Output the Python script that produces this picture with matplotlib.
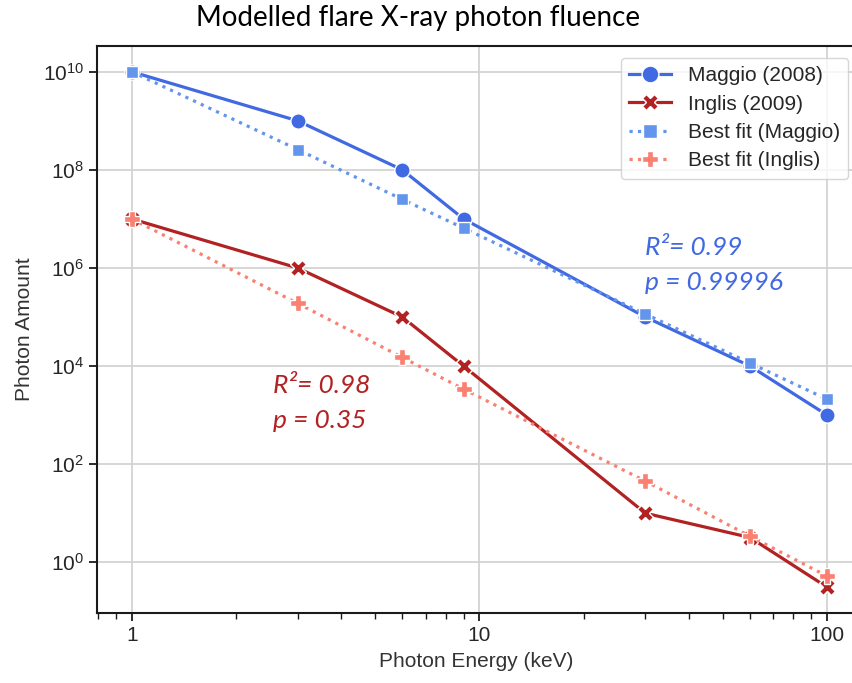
import matplotlib
matplotlib.use("Agg")
import matplotlib.pyplot as plt
from matplotlib.ticker import NullLocator, LogLocator

plt.rcParams["font.family"] = ["Liberation Sans", "DejaVu Sans"]

energy = [1, 3, 6, 9, 30, 60, 100]
maggio = [1e10, 1e9, 1e8, 1e7, 1e5, 1e4, 1e3]
inglis = [1e7, 1e6, 1e5, 1e4, 10, 3.2, 0.31]
fit_maggio = [1e10, 2.6e8, 2.5e7, 6.5e6, 1.15e5, 1.15e4, 2.1e3]
fit_inglis = [1e7, 1.9e5, 1.5e4, 3.4e3, 45, 3.4, 0.52]

y_ticks = [1e0, 1e2, 1e4, 1e6, 1e8, 1e10]
x_ticks = [1, 10, 100]

W, H = 852, 683
fig = plt.figure(figsize=(W / 100, H / 100), dpi=100)
ax = fig.add_axes([97 / W, 70 / H, 758 / W, 567 / H])

line_kw = {"lw": 2.3, "mec": "white", "mew": 1.0}
ax.plot(energy, maggio, "-", marker="o", ms=11, color="#4169E1", label="Maggio (2008)", **line_kw)
ax.plot(energy, inglis, "-", marker="X", ms=11, color="#B22222", label="Inglis (2009)", **line_kw)
ax.plot(energy, fit_maggio, ":", marker="s", ms=9, color="#6495ED", label="Best fit (Maggio)", **line_kw)
ax.plot(energy, fit_inglis, ":", marker="P", ms=11, color="#FA8072", label="Best fit (Inglis)", **line_kw)

ax.set_xscale("log")
ax.set_yscale("log")
ax.set_xlim(10 ** -0.1, 10 ** 2.08)
ax.set_yticks(y_ticks)
ax.yaxis.set_minor_locator(NullLocator())
ax.set_xticks(x_ticks)
ax.set_xticklabels(["1", "10", "100"])
ax.xaxis.set_minor_locator(LogLocator(subs=range(2, 10)))

ax.grid(True, which="major", color="#d0d0d0", lw=1.2)
ax.set_axisbelow(True)
for side in ("left", "bottom", "top", "right"):
    ax.spines[side].set_color("#1a1a1a")
    ax.spines[side].set_linewidth(1.5)
ax.tick_params(axis="both", which="major", labelsize=15, length=6, width=1.3, color="#1a1a1a", labelcolor="#262626")
ax.tick_params(axis="x", which="minor", length=4, width=1.0, color="#1a1a1a")

ax.set_xlabel("Photon Energy (keV)", fontsize=15, color="#333333", labelpad=5)
ax.set_ylabel("Photon Amount", fontsize=15, color="#333333", labelpad=6)
fig.text(418 / W, 1 - 18 / H, "Modelled flare X-ray photon fluence", ha="center", va="center",
         fontsize=20, family=["Lato", "DejaVu Sans"])

note_kw = {"fontsize": 19, "style": "italic", "family": ["Lato", "DejaVu Sans"], "va": "center", "ha": "left"}
ax.text(30, 10 ** 6.42, "R²= 0.99", color="#4169E1", **note_kw)
ax.text(30, 10 ** 5.7, "p = 0.99996", color="#4169E1", **note_kw)
ax.text(2.55, 10 ** 3.6, "R²= 0.98", color="#B22222", **note_kw)
ax.text(2.55, 10 ** 2.9, "p = 0.35", color="#B22222", **note_kw)

leg = ax.legend(loc="upper right", bbox_to_anchor=(848 / W, 1 - 58 / H), bbox_transform=fig.transFigure,
                borderaxespad=0, fontsize=15, frameon=True, fancybox=True, edgecolor="#cccccc",
                handlelength=2.0, labelspacing=0.45, borderpad=0.4, markerscale=1.1)
for t in leg.get_texts():
    t.set_color("#262626")

fig.savefig("out.png", dpi=100)
